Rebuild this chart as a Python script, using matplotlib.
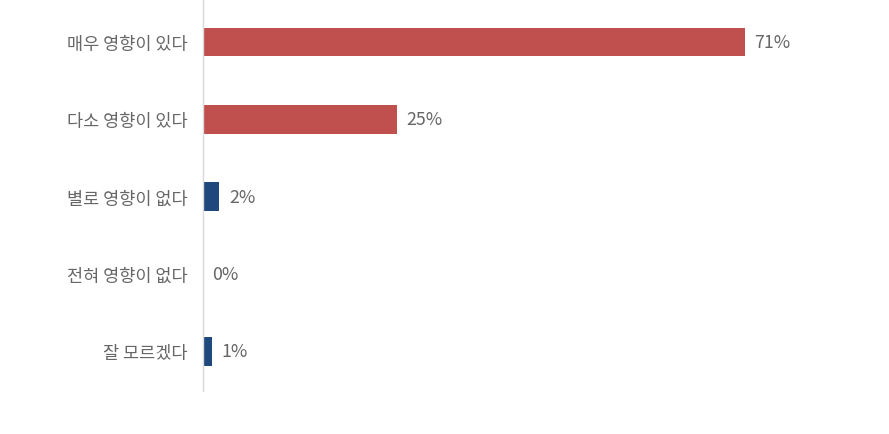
import matplotlib
matplotlib.use("Agg")
import matplotlib.pyplot as plt

plt.rcParams['font.family'] = ['Noto Sans CJK KR', 'DejaVu Sans']

categories = ['매우 영향이 있다', '다소 영향이 있다', '별로 영향이 없다', '전혀 영향이 없다', '잘 모르겠다']
values = [71.0, 25.4, 2.2, 0.0, 1.2]
labels = ['71%', '25%', '2%', '0%', '1%']
colors = ['#C0504D', '#C0504D', '#1F497D', '#1F497D', '#1F497D']

fig = plt.figure(figsize=(8.89, 4.35), dpi=100)
ax = fig.add_axes([0.228, 0.099, 0.722, 0.901])

ypos = range(len(categories))
ax.barh(ypos, values, height=0.37, color=colors)

for y, v, lab in zip(ypos, values, labels):
    ax.text(v + 1.3, y, lab, va='center', ha='left', fontsize=12.8, color='#666666')

ax.set_yticks(list(ypos))
ax.set_yticklabels(categories, fontsize=12.6, color='#666666')
ax.tick_params(axis='y', length=0, pad=11)
ax.set_xticks([])
ax.set_xlim(0, 84.1)
ax.set_ylim(4.51, -0.555)

for s in ['top', 'right', 'bottom']:
    ax.spines[s].set_visible(False)
ax.spines['left'].set_color('#D9D9D9')
ax.spines['left'].set_linewidth(1)

fig.savefig('out.png', dpi=100)
